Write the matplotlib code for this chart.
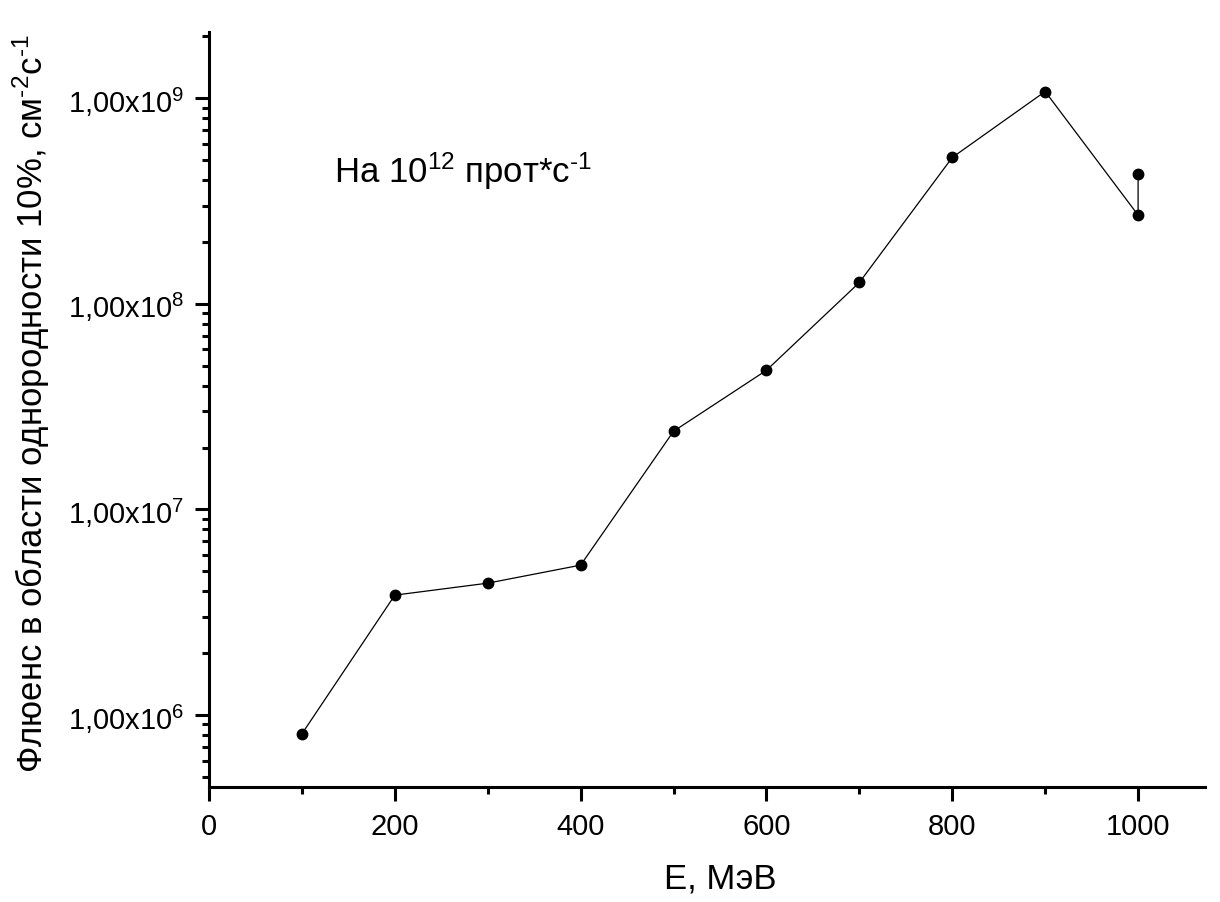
import numpy as np
import matplotlib
matplotlib.use("Agg")
import matplotlib.pyplot as plt
from matplotlib.ticker import FixedLocator, FuncFormatter, LogLocator, MultipleLocator

plt.rcParams["font.family"] = ["Liberation Sans", "DejaVu Sans"]

# energies (MeV) and fluence values
energy = [100, 200, 300, 400, 500, 600, 700, 800, 900, 1000, 1000]
fluence = [8.1e5, 3.83e6, 4.38e6, 5.36e6, 2.4e7, 4.75e7, 1.27e8, 5.15e8, 1.078e9, 2.70e8, 4.3e8]

y_major = [1e6, 1e7, 1e8, 1e9]
x_major = [0, 200, 400, 600, 800, 1000]

fig = plt.figure(figsize=(12.2, 9.03), dpi=100)
ax = fig.add_axes([0.1713, 0.1274, 0.8164, 0.8361])

ax.plot(energy, fluence, color="black", lw=0.9, marker="o", ms=7.5,
        markerfacecolor="black", markeredgecolor="black")

ax.set_yscale("log")
ax.set_xlim(0, 1072)
ax.set_ylim(4.47e5, 2.1e9)

ax.xaxis.set_major_locator(FixedLocator(x_major))
ax.xaxis.set_minor_locator(MultipleLocator(100))
ax.yaxis.set_major_locator(FixedLocator(y_major))
ax.yaxis.set_minor_locator(LogLocator(base=10, subs=np.arange(2, 10)))


def fmt_y(v, pos):
    e = int(round(np.log10(v)))
    return r"1,00x10$\mathregular{^{%d}}$" % e


ax.yaxis.set_major_formatter(FuncFormatter(fmt_y))
ax.yaxis.set_minor_formatter(FuncFormatter(lambda v, p: ""))

for side in ["top", "right"]:
    ax.spines[side].set_visible(False)
for side in ["left", "bottom"]:
    ax.spines[side].set_linewidth(2.2)

ax.tick_params(which="major", direction="out", length=10, width=2.2, labelsize=21, pad=8)
ax.tick_params(which="minor", direction="out", length=5, width=2.2)

# plain hyphen in the exponents, as in the original
ax.set_xlabel("E, МэВ", fontsize=25)
ax.set_ylabel("Флюенс в области однородности 10%, см$\\mathregular{^{\u20102}}$с$\\mathregular{^{\u20101}}$",
              fontsize=25)
ax.xaxis.set_label_coords(0.513, -0.099)
ax.yaxis.set_label_coords(-0.158, 0.509)

ax.text(135, 3.9e8, "На 10$\\mathregular{^{12}}$ прот*с$\\mathregular{^{\u20101}}$",
        fontsize=25, va="baseline", ha="left")

fig.savefig("out.png", dpi=100)
